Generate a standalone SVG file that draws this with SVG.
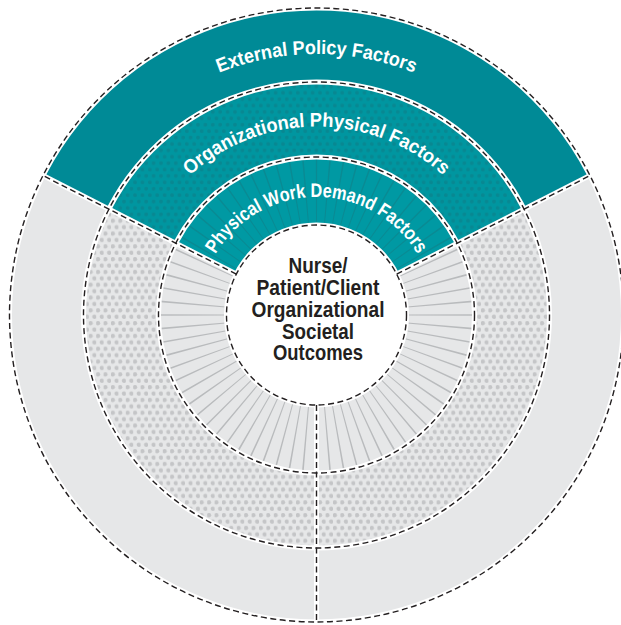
<svg xmlns="http://www.w3.org/2000/svg" width="621" height="625" viewBox="0 0 621 625">
  <style>
    .band { fill: none; stroke: #ffffff; stroke-width: 5; }
    .dash { fill: none; stroke: #231f20; stroke-width: 1.4; stroke-dasharray: 6 3.5; }
    .arcText { font-family: "Liberation Sans", Arial, sans-serif; font-weight: bold; font-size: 19.5px; fill: #ffffff; }
    .center { font-family: "Liberation Sans", Arial, sans-serif; font-weight: bold; font-size: 22px; fill: #231f20; text-anchor: middle; }
  </style>
  <defs>
    <pattern id="dotsGrey" width="7.4" height="12.8" patternUnits="userSpaceOnUse">
      <rect width="7.4" height="12.8" fill="#e6e7e8"/>
      <circle cx="1.85" cy="3.2" r="2.1" fill="#c4c5c7"/>
      <circle cx="5.55" cy="9.6" r="2.1" fill="#c4c5c7"/>
    </pattern>
    <pattern id="dotsTeal" width="7.4" height="12.8" patternUnits="userSpaceOnUse">
      <rect width="7.4" height="12.8" fill="#0096a0"/>
      <circle cx="1.85" cy="3.2" r="1.9" fill="#088892"/>
      <circle cx="5.55" cy="9.6" r="1.9" fill="#088892"/>
    </pattern>
    <clipPath id="tealInnerClip">
      <path d="M316.5,315 L175.7,243.3 A158,158 0 0 1 457.3,243.3 Z"/>
    </clipPath>
    <path id="arcOuter" d="M55.5,315 A261,261 0 0 1 577.5,315"/>
    <path id="arcMiddle" d="M128,315 A188.5,188.5 0 0 1 505,315"/>
    <path id="arcInner" d="M198.5,315 A118,118 0 0 1 434.5,315"/>
  </defs>

  <g id="ring-external">
    <circle cx="316.5" cy="315" r="307" fill="#e6e7e8"/>
    <path d="M316.5,315 L43.0,175.6 A307,307 0 0 1 590.0,175.6 Z" fill="#008a96"/>
  </g>

  <g id="ring-organizational">
    <circle cx="316.5" cy="315" r="233" fill="url(#dotsGrey)"/>
    <path d="M316.5,315 L108.9,209.2 A233,233 0 0 1 524.1,209.2 Z" fill="url(#dotsTeal)"/>
  </g>

  <g id="ring-physical-work">
    <circle cx="316.5" cy="315" r="158" fill="#e6e7e8"/>
    <circle cx="316.5" cy="315" r="124" fill="none" stroke="#b9bbbd" stroke-width="66" pathLength="360" stroke-dasharray="0.6 4.4" stroke-dashoffset="0.3"/>
    <path d="M316.5,315 L175.7,243.3 A158,158 0 0 1 457.3,243.3 Z" fill="#0099a3"/>
    <circle cx="316.5" cy="315" r="124" fill="none" stroke="#0a8a93" stroke-width="66" pathLength="360" stroke-dasharray="0.55 4.45" stroke-dashoffset="0.275" clip-path="url(#tealInnerClip)"/>
  </g>

  <g id="core">
    <circle cx="316.5" cy="315" r="90" fill="#ffffff"/>
  </g>

  <g id="connectors">
    <g id="white-bands">
      <circle class="band" cx="316.5" cy="315" r="90"/>
      <circle class="band" cx="316.5" cy="315" r="158"/>
      <circle class="band" cx="316.5" cy="315" r="233"/>
      <circle class="band" cx="316.5" cy="315" r="307"/>
      <line class="band" x1="236.3" y1="274.1" x2="43.0" y2="175.6"/>
      <line class="band" x1="396.7" y1="274.1" x2="590.0" y2="175.6"/>
      <line class="band" x1="316.5" y1="405" x2="316.5" y2="622"/>
    </g>
    <g id="dashed-lines">
      <circle class="dash" cx="316.5" cy="315" r="90"/>
      <circle class="dash" cx="316.5" cy="315" r="158"/>
      <circle class="dash" cx="316.5" cy="315" r="233"/>
      <circle class="dash" cx="316.5" cy="315" r="307"/>
      <line class="dash" x1="236.3" y1="274.1" x2="43.0" y2="175.6"/>
      <line class="dash" x1="396.7" y1="274.1" x2="590.0" y2="175.6"/>
      <line class="dash" x1="316.5" y1="405" x2="316.5" y2="622"/>
    </g>
  </g>

  <g id="labels">
    <text class="arcText"><textPath href="#arcOuter" startOffset="50%" text-anchor="middle" textLength="200" lengthAdjust="spacingAndGlyphs">External Policy Factors</textPath></text>
    <text class="arcText"><textPath href="#arcMiddle" startOffset="50%" text-anchor="middle" textLength="278" lengthAdjust="spacingAndGlyphs">Organizational Physical Factors</textPath></text>
    <text class="arcText"><textPath href="#arcInner" startOffset="50%" text-anchor="middle" textLength="243" lengthAdjust="spacingAndGlyphs">Physical Work Demand Factors</textPath></text>
  </g>

  <g id="outcomes-text">
    <text class="center" x="318" y="273" textLength="59" lengthAdjust="spacingAndGlyphs">Nurse/</text>
    <text class="center" x="318" y="295" textLength="123" lengthAdjust="spacingAndGlyphs">Patient/Client</text>
    <text class="center" x="318" y="317" textLength="133" lengthAdjust="spacingAndGlyphs">Organizational</text>
    <text class="center" x="318" y="338.5" textLength="72" lengthAdjust="spacingAndGlyphs">Societal</text>
    <text class="center" x="318" y="360" textLength="90" lengthAdjust="spacingAndGlyphs">Outcomes</text>
  </g>
</svg>
